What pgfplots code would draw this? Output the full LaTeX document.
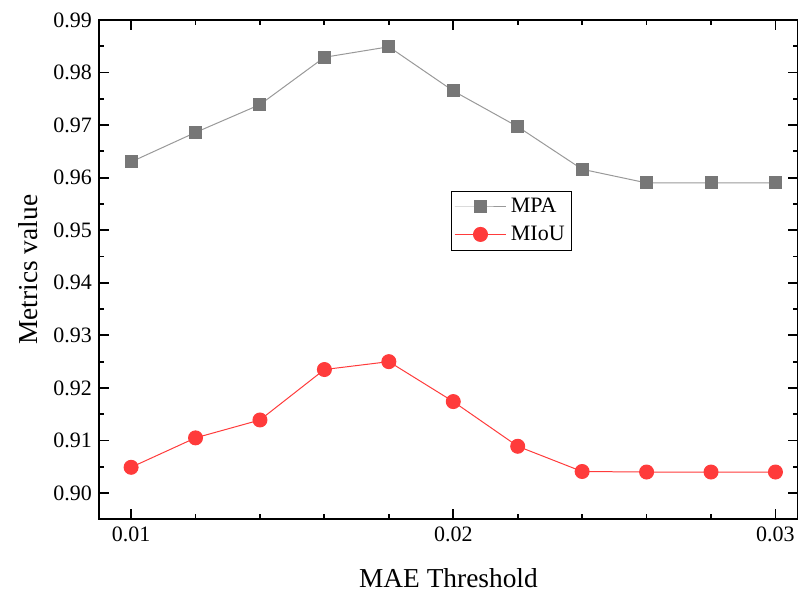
\documentclass[border=0pt]{standalone}
\usepackage{fontspec}
\setmainfont{Liberation Serif}
\usepackage{pgfplots}
\pgfplotsset{compat=1.18}
\usetikzlibrary{calc}
\definecolor{mpagray}{HTML}{777777}
\definecolor{mpaline}{HTML}{999999}
\definecolor{miored}{HTML}{FF3B3B}
\begin{document}
\begin{tikzpicture}
\begin{axis}[
    name=ax,
    width=350pt, height=250pt,
    scale only axis,
    xmin=0.009, xmax=0.0307,
    ymin=0.895, ymax=0.99,
    xtick={0.01,0.02,0.03},
    minor x tick num=4,
    ytick={0.90,0.91,...,0.99},
    minor y tick num=1,
    tick align=inside,
    major tick length=5pt,
    minor tick length=2.5pt,
    every tick/.style={black, line width=0.9pt},
    axis line style={line width=1.1pt},
    scaled ticks=false,
    xticklabel={\pgfmathprintnumber[fixed,precision=2,assume math mode=true]{\tick}},
    yticklabel={\pgfmathprintnumber[fixed,fixed zerofill,precision=2,assume math mode=true]{\tick}},
    ticklabel style={font=\fontsize{11}{12}\selectfont},
    xlabel={MAE Threshold},
    ylabel={Metrics value},
    label style={font=\fontsize{13.7}{15}\selectfont},
    xlabel style={yshift=-6.5pt},
    ylabel style={yshift=1pt},
    legend style={at={(0.503,0.658)}, anchor=north west, draw=black, line width=0.5pt,
        font=\fontsize{11}{13}\selectfont, inner sep=1.5pt, row sep=1pt},
    legend cell align=left,
    legend image code/.code={
        \draw[mark repeat=2, mark phase=2, #1] plot coordinates {(0pt,0pt) (13pt,0pt) (26pt,0pt)};
    },
]
\addplot[color=mpaline, line width=0.5pt, mark=square*, mark size=3pt,
    mark options={fill=mpagray, draw=mpagray}] coordinates {
    (0.010,0.9630) (0.012,0.9686) (0.014,0.9739) (0.016,0.9829) (0.018,0.9849)
    (0.020,0.9765) (0.022,0.9697) (0.024,0.9616) (0.026,0.9590) (0.028,0.9590) (0.030,0.9590)};
\addplot[color=miored, line width=0.5pt, mark=*, mark size=3.5pt,
    mark options={fill=miored, draw=miored}] coordinates {
    (0.010,0.9049) (0.012,0.9105) (0.014,0.9139) (0.016,0.9235) (0.018,0.9250)
    (0.020,0.9174) (0.022,0.9089) (0.024,0.9041) (0.026,0.9040) (0.028,0.9040) (0.030,0.9040)};
\legend{MPA, MIoU}
\end{axis}
\pgfresetboundingbox
\path ($(ax.south west)+(-49.5pt,-36pt)$) rectangle ($(ax.north east)+(0pt,10pt)$);
\end{tikzpicture}
\end{document}
